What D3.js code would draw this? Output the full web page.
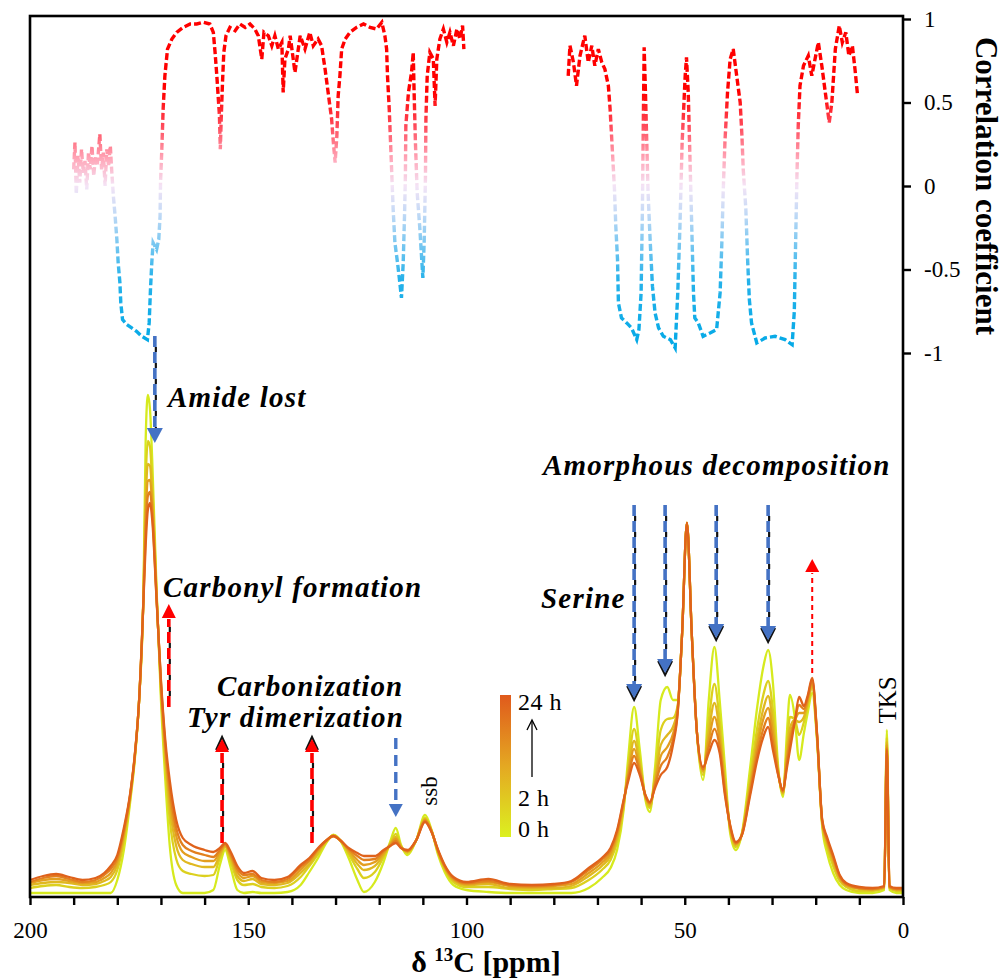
<!DOCTYPE html>
<html><head><meta charset="utf-8">
<script src="https://cdn.jsdelivr.net/npm/d3@7"></script>
<style>body{margin:0;background:#fff}svg{display:block}</style>
</head><body><svg id="chart" width="1003" height="978"></svg>
<script>
// ---------------- DATA ----------------
// chemical shift grid (ppm) shared by all spectra
const ppm = [200,197,194,191,188,185,183,181.5,180,178.5,177,176,175,174,173.5,173,172.5,172,171,170,169,168,166.5,165,163,160,158,156.5,155.3,154,152.5,151,149,147,144,141,138,136,134,132,130.5,129,127,125,123.5,121,119,117.5,116.2,115,113.5,111.5,109.5,108,106.5,105,103,100,95,90,85,80,76,72,69,67,65.5,64,63,61.6,60.3,59,58,56.8,55.5,54,52.7,51.6,50.6,49.5,48.4,47.2,45.8,44.5,43.2,42,40.8,39.6,38.3,36.9,35,33.4,32,30.9,29.8,28.6,27.5,26.6,25.9,24.8,23.8,22.7,21.8,20.8,19.7,18.5,17.4,16,14.5,13,10,7,4.3,3.7,3.1,1.5,0];
// intensities (a.u.)
const spec0h  = [4,4,4,4,4,4,4,4,17,47,97,137,197,307,457,502,487,437,307,197,117,52,12,4,4,4,7,32,47,29,7,4,5,4,4,5,12,25,39,55,62,57,39,17,5,15,35,55,69,52,42,57,82,67,42,25,12,7,5,4,4,4,4,9,19,29,47,87,137,190,147,97,85,130,197,210,197,197,264,374,264,164,117,197,250,197,130,64,47,64,130,190,230,247,214,130,100,164,202,180,137,164,185,204,157,70,44,24,12,7,4,4,7,167,7,4,4];
const spec2h  = [9,11,12,10,9,10,12,15,27,56,100,139,197,303,415,456,450,413,303,205,133,78,38,26,23,21,22,39,50,35,17,12,13,10,9,11,20,31,43,56,62,57,43,28,19,25,40,53,63,51,44,57,79,66,44,28,15,10,10,8,7,8,9,17,27,37,55,91,128,168,137,99,89,122,167,178,179,192,264,374,264,164,122,176,213,176,119,67,50,63,119,169,202,216,187,127,103,150,180,178,162,175,192,210,160,73,50,31,16,10,6,6,9,159,9,6,6];
const spec4h  = [12,14,15,14,12,13,16,20,32,60,102,140,197,301,394,433,431,401,301,209,141,91,51,37,33,30,30,42,51,39,21,16,18,13,12,14,24,33,45,56,61,57,45,33,27,31,42,53,60,50,45,57,78,66,45,29,17,12,13,9,9,9,11,21,31,41,59,93,124,156,132,100,91,117,152,162,170,190,264,374,264,164,125,165,194,165,113,69,52,63,113,158,188,201,174,125,104,143,169,177,175,180,195,213,161,74,54,35,18,11,8,7,9,155,9,7,7];
const spec8h  = [14,17,18,16,14,15,19,24,36,64,103,141,197,300,378,416,417,392,300,212,147,101,61,45,40,36,36,45,52,41,25,19,21,15,14,16,27,36,47,57,61,57,47,37,32,35,44,52,58,50,46,57,77,66,46,30,18,13,15,11,10,11,13,24,34,44,62,95,121,148,128,101,93,114,141,150,163,188,264,374,264,164,127,157,180,157,109,70,53,63,109,150,178,189,164,124,105,138,161,176,184,184,198,215,162,75,56,38,20,12,9,8,10,152,10,8,8];
const spec16h = [15,19,21,18,15,17,22,28,39,66,104,141,197,298,365,401,405,384,298,215,152,109,69,52,46,42,40,47,53,43,28,22,23,17,15,18,30,37,48,57,61,57,48,41,37,38,46,51,56,49,46,57,76,65,46,31,19,14,16,12,11,12,15,27,37,47,65,96,118,141,125,101,94,112,131,140,157,186,264,374,264,164,128,150,168,150,105,71,54,62,105,143,168,179,155,123,106,133,154,176,192,188,200,217,163,76,58,40,21,13,9,8,10,149,10,8,8];
const spec24h = [17,21,23,20,17,19,24,31,42,69,105,142,197,297,352,387,394,377,297,217,157,117,77,59,52,47,45,49,54,45,31,24,26,19,17,20,32,39,49,57,61,57,49,44,41,41,47,51,54,49,47,57,75,65,47,32,20,15,18,13,12,13,16,29,39,49,67,97,115,134,122,102,95,109,122,130,152,185,264,374,264,164,130,144,157,144,102,72,55,62,102,137,160,170,147,122,107,129,147,175,200,191,202,219,164,77,60,42,22,14,10,9,11,147,11,9,9];
const seriesNames = ["0 h","2 h","4 h","8 h","16 h","24 h"];

// correlation coefficient (two measured segments)
const corrLeftPpm = [190,189.7,189.4,189,188.6,188.2,187.8,187.4,187,186.6,186.2,185.8,185.4,185,184.6,184,183.6,183.2,182.8,182.4,182,181.6,181.3,180.9,180.5,180.1,179.8,179.4,179.2,178.8,177.8,176.7,175.6,174.4,173.1,172.7,172.4,172.1,171.8,171,170.5,170.2,170.1,169.8,169.5,169.1,168.5,167.5,166.4,164.9,163.3,161.8,160.3,158.8,158,157.6,157.2,156.9,156.6,156.4,156.2,155.9,155.6,155.1,154.2,153,151.9,150.7,149.6,148.5,147.7,146.9,146.4,145.4,144.6,143.9,143.1,142.3,142,141.6,140.8,140.4,139.3,138.1,137,135.9,135.1,134,133.2,132.4,132,131.4,130.9,130.5,130.1,129.7,129.4,129,128.6,127.8,126.7,125.2,123.6,122.1,120.6,119.4,118.7,118.3,118.1,117.7,117.4,117.1,116.8,116.4,115.8,115.4,114.9,114.5,114.2,114,113.9,113.3,112.6,112.2,112,111.7,111.3,110.7,110,109.7,109.4,109.3,109,108.4,107.6,107.2,106.8,106.1,105.3,104.5,103.8,103,102.2,101.5,100.9,100.6];
const corrLeftR = [0.10,0.26,-0.05,0.18,0.02,0.22,0.08,0.15,-0.02,0.20,0.10,0.24,0.06,0.18,0.12,0.31,0.10,0.20,0.00,0.22,0.12,0.24,0.10,-0.06,-0.18,-0.32,-0.46,-0.58,-0.70,-0.80,-0.83,-0.85,-0.87,-0.90,-0.92,-0.82,-0.62,-0.46,-0.34,-0.38,-0.32,-0.18,0.02,0.22,0.46,0.66,0.82,0.88,0.92,0.95,0.97,0.97,0.98,0.97,0.92,0.80,0.66,0.54,0.42,0.22,0.40,0.62,0.80,0.90,0.95,0.93,0.97,0.95,0.97,0.94,0.90,0.76,0.92,0.90,0.84,0.90,0.82,0.86,0.56,0.76,0.82,0.90,0.68,0.90,0.82,0.92,0.84,0.88,0.84,0.70,0.62,0.50,0.40,0.26,0.14,0.30,0.54,0.66,0.82,0.88,0.92,0.95,0.97,0.95,0.94,0.98,0.90,0.82,0.66,0.46,0.26,0.06,-0.14,-0.34,-0.46,-0.55,-0.67,-0.46,-0.18,0.06,0.36,0.56,0.68,0.80,0.56,0.26,-0.04,-0.25,-0.55,-0.34,0.06,0.40,0.66,0.80,0.76,0.48,0.76,0.88,0.94,0.86,0.92,0.84,0.94,0.88,0.96,0.82];
const corrRightPpm = [76.7,76.3,75.5,74.8,74,72.9,72.1,71.3,70.6,69.8,69,68.3,67.5,67.1,66.6,66.1,65.8,65.4,65.2,64.5,63.3,62.2,61,60.5,60,59.7,59.5,59.3,59,58.7,58.4,57.9,57.4,56.8,56,54.9,53.3,52.2,51.6,51.1,50.6,49.9,49.6,49.2,48.8,48.4,48,47.7,46.9,45.8,44.2,42.7,41.9,41.5,41.2,40.8,40.2,39.6,38.9,38.1,37.3,36.9,36.6,36,35.6,35.2,34.7,33.5,31.6,29.3,27,25.4,24.9,24.6,24.3,24,23.6,22.8,21.7,20.9,19.4,18.6,17.7,16.9,16.3,15.5,14.6,13.9,13.1,12.4,11.6,11,10.4];
const corrRightR = [0.66,0.84,0.74,0.60,0.78,0.90,0.74,0.84,0.72,0.82,0.74,0.70,0.60,0.46,0.22,-0.02,-0.24,-0.44,-0.70,-0.79,-0.82,-0.85,-0.92,-0.86,-0.64,-0.14,0.36,0.83,0.56,0.26,-0.04,-0.34,-0.60,-0.76,-0.85,-0.90,-0.92,-0.97,-0.64,-0.24,0.26,0.66,0.77,0.56,0.16,-0.24,-0.64,-0.79,-0.82,-0.90,-0.88,-0.86,-0.64,-0.34,-0.04,0.26,0.56,0.76,0.82,0.66,0.50,0.30,0.10,-0.14,-0.44,-0.68,-0.82,-0.94,-0.91,-0.90,-0.92,-0.95,-0.75,-0.34,0.06,0.36,0.60,0.72,0.78,0.66,0.86,0.72,0.54,0.38,0.50,0.82,0.96,0.86,0.92,0.78,0.84,0.70,0.54];

const xTickValues = [200,190,180,170,160,150,140,130,120,110,100,90,80,70,60,50,40,30,20,10,0];
const xTickLabels = [200,150,100,50,0];
const corrTicks = [-1,-0.5,0,0.5,1];
const legendLabels = ["24 h","2 h","0 h"];
// annotation arrows: position in ppm
const amidePpm = 171.4, carbonylPpm = 168.2;
const carbonizationPpm = [156.0, 135.4];
const aromaticLossPpm = 116.2;
const aliphaticLossPpm = [61.6, 54.5, 42.8, 30.9];
const methylGainPpm = 20.8;

// ---------------- DRAW ----------------
const FONT = "Liberation Serif";
const svg = d3.select("#chart").style("font-family", FONT);
const L = 30, R = 903, T = 16, B = 897;
const x = d3.scaleLinear().domain([200, 0]).range([L, R]);
const y = d3.scaleLinear().domain([0, 881]).range([B, T]);
const yC = d3.scaleLinear().domain([-1, 1]).range([353, 19]);
const defs = svg.append("defs");

// correlation gradient
const cg = defs.append("linearGradient").attr("id","corrGrad").attr("gradientUnits","userSpaceOnUse")
  .attr("x1",0).attr("x2",0).attr("y1",yC(1)).attr("y2",yC(-1));
[[0,"#ff0000"],[0.22,"#ff0000"],[0.32,"#ff4a5a"],[0.42,"#ffa8ba"],[0.5,"#f4e4f6"],[0.58,"#c4daf6"],[0.68,"#74c6f0"],[0.78,"#26b2ea"],[1,"#00a8e6"]]
  .forEach(s => cg.append("stop").attr("offset", s[0]).attr("stop-color", s[1]));

// legend gradient
const lg = defs.append("linearGradient").attr("id","legGrad").attr("x1",0).attr("x2",0).attr("y1",1).attr("y2",0);
[[0,"#dcf020"],[0.5,"#e4a822"],[1,"#e05a1c"]].forEach(s => lg.append("stop").attr("offset", s[0]).attr("stop-color", s[1]));

// spectra
const specColors = ["#d6ea1e","#dcd01e","#e0b820","#e39e1f","#e2801e","#df621b"];
const allSpec = [spec0h, spec2h, spec4h, spec8h, spec16h, spec24h];
const sLine = d3.line().x((d, i) => x(ppm[i])).y(d => y(d)).curve(d3.curveMonotoneX);
svg.append("g").selectAll("path").data(allSpec).join("path")
  .attr("d", d => sLine(d)).attr("fill","none")
  .attr("stroke", (d, i) => specColors[i]).attr("stroke-width", 2.3).attr("stroke-linejoin","round");

// correlation curve
const cLine = d3.line().x(d => x(d[0])).y(d => yC(d[1]));
[[corrLeftPpm, corrLeftR],[corrRightPpm, corrRightR]].forEach(([p, r]) => {
  svg.append("path").attr("d", cLine(p.map((v, i) => [v, r[i]])))
    .attr("fill","none").attr("stroke","url(#corrGrad)").attr("stroke-width",3.4)
    .attr("stroke-dasharray","7,3");
});

// frame
svg.append("rect").attr("x",L).attr("y",T).attr("width",R-L).attr("height",B-T)
  .attr("fill","none").attr("stroke","#000").attr("stroke-width",2.6);

// bottom axis
const xAxis = svg.append("g").attr("transform",`translate(0,${B})`)
  .call(d3.axisBottom(x).tickValues(xTickValues).tickSize(8).tickPadding(17)
    .tickFormat(d => xTickLabels.includes(d) ? String(d) : ""));
xAxis.attr("font-family", null);
xAxis.select(".domain").remove();
xAxis.selectAll("line").attr("stroke","#000").attr("stroke-width",2.4);
xAxis.selectAll("text").attr("font-size",23).attr("fill","#000").style("font-family",FONT);

// right axis
const rAxis = svg.append("g").attr("transform",`translate(${R},0)`)
  .call(d3.axisRight(yC).tickValues(corrTicks).tickSize(8).tickPadding(13).tickFormat(d => String(d)));
rAxis.attr("font-family", null);
rAxis.select(".domain").remove();
rAxis.selectAll("line").attr("stroke","#000").attr("stroke-width",2.4);
rAxis.selectAll("text").attr("font-size",23).attr("fill","#000").style("font-family",FONT);

// axis titles
const xt = svg.append("text").attr("x",486).attr("y",972).attr("text-anchor","middle")
  .attr("font-size",30).attr("font-weight","bold").style("font-family",FONT);
xt.append("tspan").text("δ ");
xt.append("tspan").text("13").attr("font-size",19).attr("dy",-11);
xt.append("tspan").text("C [ppm]").attr("dy",11);
svg.append("text").attr("transform","translate(976,186) rotate(90)").attr("text-anchor","middle")
  .attr("font-size",31).attr("font-weight","bold").style("font-family",FONT).text("Correlation coefficient");

// annotation text
function label(txt, x0, y0) {
  svg.append("text").attr("x",x0).attr("y",y0).attr("font-size",29).attr("font-weight","bold")
    .attr("font-style","italic").attr("letter-spacing",1.2).attr("fill","#000").style("font-family",FONT).text(txt);
}
label("Amide lost", 168, 407);
label("Carbonyl formation", 163, 597);
label("Carbonization", 217, 696);
label("Tyr dimerization", 187, 727);
label("Amorphous decomposition", 543, 475);
label("Serine", 541, 608);

svg.append("text").attr("transform",`translate(${x(106.8)},791) rotate(-90)`).attr("text-anchor","middle")
  .attr("font-size",23).style("font-family",FONT).text("ssb");
svg.append("text").attr("transform",`translate(${x(1.6)},700) rotate(-90)`).attr("text-anchor","middle")
  .attr("font-size",25).style("font-family",FONT).text("TKS");

// arrows
const BLUE = "#4472c4", RED = "#ff0000";
function shaft(xp, y0, y1, color, black, w, dash) {
  svg.append("line").attr("x1",xp).attr("x2",xp).attr("y1",y0).attr("y2",y1)
    .attr("stroke",color).attr("stroke-width",w).attr("stroke-dasharray",dash);
  if (black) {
    const parts = dash.split(",").map(Number);
    svg.append("line").attr("x1",xp+1).attr("x2",xp+1).attr("y1",y0).attr("y2",y1)
      .attr("stroke","#111").attr("stroke-width",w*0.6)
      .attr("stroke-dasharray",`${parts[1]},${parts[0]}`).attr("stroke-dashoffset",-parts[0]);
  }
}
function head(xp, yBase, yTip, color, hw, black) {
  if (black) {
    const d = yTip > yBase ? 2 : -2;
    svg.append("path").attr("d",`M${xp-hw+1},${yBase+d}L${xp},${yTip+d}L${xp+hw-1},${yBase+d}`)
      .attr("fill","none").attr("stroke","#111").attr("stroke-width",2);
  }
  svg.append("path").attr("d",`M${xp-hw},${yBase}L${xp+hw},${yBase}L${xp},${yTip}Z`).attr("fill",color);
}
// amide lost
shaft(x(amidePpm), 336, 428, BLUE, true, 3.6, "11,5");
head(x(amidePpm), 428, 443, BLUE, 8, false);
// carbonyl formation
shaft(x(carbonylPpm), 707, 619, RED, true, 3.6, "11,5");
head(x(carbonylPpm), 618, 604, RED, 7, false);
// carbonization / Tyr
carbonizationPpm.forEach(p => {
  shaft(x(p), 843, 753, RED, true, 3.6, "11,5");
  head(x(p), 752, 739, RED, 7, true);
});
// aromatic loss
shaft(x(aromaticLossPpm), 738, 805, BLUE, false, 3.4, "11,6");
head(x(aromaticLossPpm), 804, 817, BLUE, 7, false);
// amorphous decomposition arrows
const tipY = [698, 673, 638, 640];
aliphaticLossPpm.forEach((p, i) => {
  shaft(x(p), 505, tipY[i]-14, BLUE, true, 3.6, "11,5");
  head(x(p), tipY[i]-14, tipY[i], BLUE, 8, true);
});
// methyl gain
shaft(x(methylGainPpm), 673, 573, RED, false, 2, "5,4");
head(x(methylGainPpm), 572, 559, RED, 7, false);

// legend
svg.append("rect").attr("x",500).attr("y",695).attr("width",11).attr("height",142).attr("fill","url(#legGrad)");
const legY = [710, 806, 837];
legendLabels.forEach((t, i) => svg.append("text").attr("x",518).attr("y",legY[i]).attr("font-size",24)
  .attr("letter-spacing",0.5).style("font-family",FONT).text(t));
svg.append("line").attr("x1",532).attr("x2",532).attr("y1",777).attr("y2",721).attr("stroke","#000").attr("stroke-width",1.3);
svg.append("path").attr("d","M527,730L532,720L537,730").attr("fill","none").attr("stroke","#000").attr("stroke-width",1.3);
</script></body></html>
